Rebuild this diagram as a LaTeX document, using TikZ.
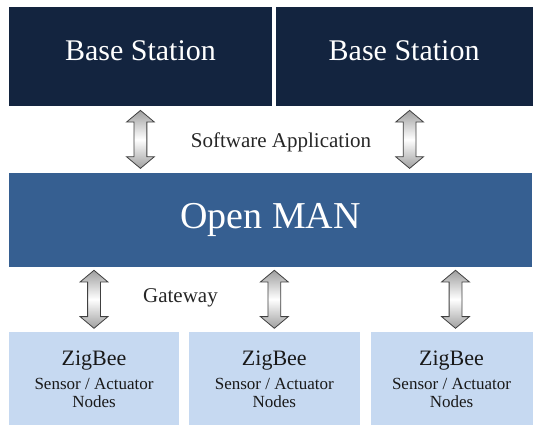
\documentclass[tikz,border=0pt]{standalone}
\usepackage{fontspec}
\setmainfont{Liberation Serif}
\usetikzlibrary{calc, positioning, shapes.arrows}

\begin{document}
\begin{tikzpicture}[
    x=1pt, y=1pt,
]

\definecolor{bs_color}{RGB}{19,36,63}
\definecolor{man_color}{RGB}{54,95,145}
\definecolor{zb_color}{RGB}{198,217,241}

\tikzstyle{bsbox} = [rectangle, fill=bs_color, text=white, minimum height=99.5pt, inner sep=0pt, text depth=12pt, font=\fontsize{30}{32}\selectfont]
\tikzstyle{manbox} = [rectangle, fill=man_color, text=white, minimum height=94pt, inner sep=0pt, font=\fontsize{38}{40}\selectfont]
\tikzstyle{zbbox} = [rectangle, fill=zb_color, text=black!90, minimum height=94pt, inner sep=0pt, align=center, font=\fontsize{17}{18}\selectfont]
\tikzstyle{updown} = [double arrow, rotate=90, draw=black!75, line width=.8pt, top color=gray!75, bottom color=gray!75, middle color=white, minimum height=58pt, minimum width=27pt, inner sep=6pt, double arrow head extend=7.5pt, double arrow tip angle=100]
\tikzstyle{lbl} = [text=black!85, font=\fontsize{21}{23}\selectfont]

\useasboundingbox (0,0) rectangle (533,-425);

\node (bs1) [bsbox, minimum width=263.5pt, anchor=north west] at (8.5,-6.5) {Base Station};
\node (bs2) [bsbox, minimum width=257pt, right=3pt of bs1] {Base Station};

\node (man) [manbox, minimum width=523.5pt, below=66pt of bs1.south west, anchor=north west] {Open MAN};

\node (zb1) [zbbox, minimum width=170.6pt, below=65pt of man.south west, anchor=north west] {{\fontsize{22}{24}\selectfont ZigBee}\\[6pt] Sensor / Actuator\\ Nodes};
\node (zb2) [zbbox, minimum width=170.5pt, right=9.4pt of zb1] {{\fontsize{22}{24}\selectfont ZigBee}\\[6pt] Sensor / Actuator\\ Nodes};
\node (zb3) [zbbox, minimum width=162pt, right=10.5pt of zb2] {{\fontsize{22}{24}\selectfont ZigBee}\\[6pt] Sensor / Actuator\\ Nodes};

\node (sw1) [updown] at ($ (bs1.south)!.5!(bs1.south |- man.north) $) {};
\node (sw2) [updown] at ($ (bs2.south)!.5!(bs2.south |- man.north) + (5.5,0) $) {};

\node (gw1) [updown] at ($ (zb1.north)!.5!(zb1.north |- man.south) $) {};
\node (gw2) [updown] at ($ (zb2.north)!.5!(zb2.north |- man.south) $) {};
\node (gw3) [updown] at ($ (zb3.north)!.5!(zb3.north |- man.south) + (4,0) $) {};

\node (swlabel) [lbl] at ($ (sw1)!.5!(sw2) + (6,-3) $) {Software Application};
\node (gwlabel) [lbl] at ($ (gw1)!.5!(gw2) + (-3.7,1.5) $) {Gateway};

\end{tikzpicture}
\end{document}
